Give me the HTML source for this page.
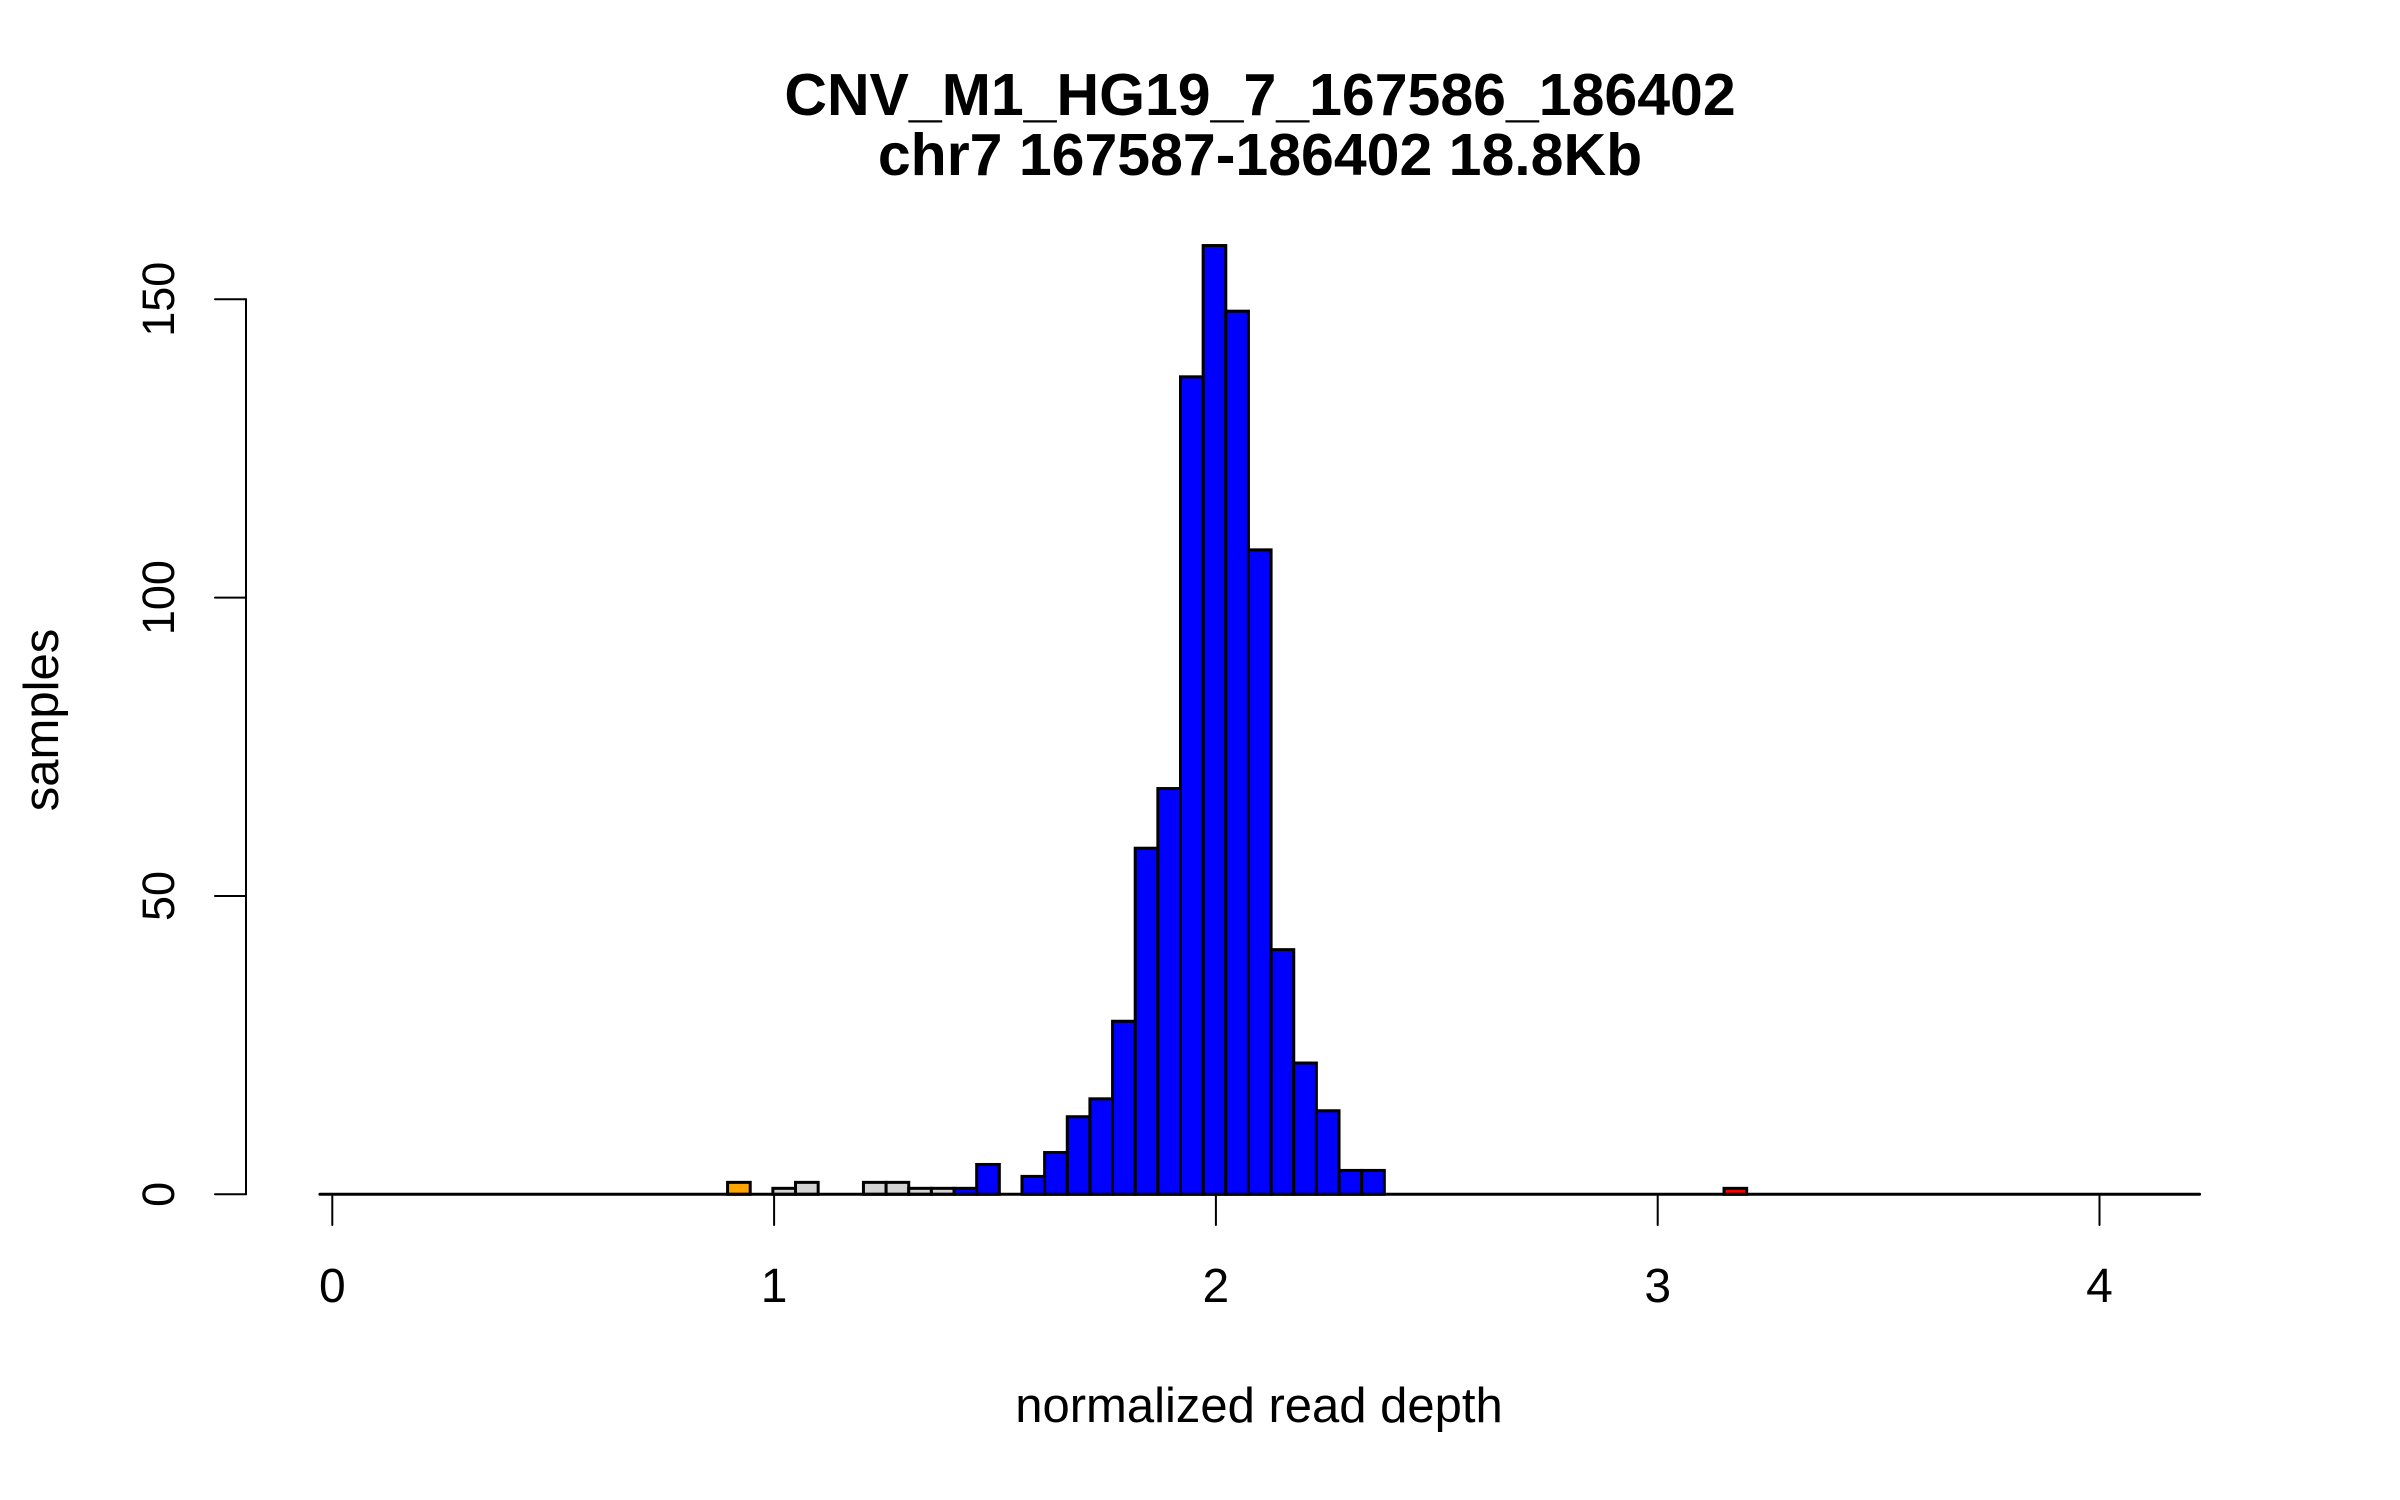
<!DOCTYPE html>
<html><head><meta charset="utf-8">
<style>
html,body{margin:0;padding:0;background:#fff;}
svg{display:block;}
text{font-family:"Liberation Sans",Arial,sans-serif;fill:#000;}
</style></head>
<body>
<svg id="chart" width="2400" height="1500" viewBox="0 0 2400 1500" xmlns="http://www.w3.org/2000/svg">
<rect x="0" y="0" width="2400" height="1500" fill="#fff"/>
<text x="1260" y="115" font-size="59" font-weight="bold" text-anchor="middle">CNV_M1_HG19_7_167586_186402</text>
<text x="1260" y="175" font-size="59" font-weight="bold" text-anchor="middle">chr7 167587-186402 18.8Kb</text>
<text x="1259" y="1422" font-size="49" text-anchor="middle">normalized read depth</text>
<text transform="translate(58,720) rotate(-90)" font-size="49" text-anchor="middle">samples</text>
<g id="bars"></g>
<g id="axes"></g>
</svg>
<script>
// Histogram data
const binStart = -0.028;
const binWidth = 0.05126;
const counts = [
 0,0,0,0,0,0,0,0,0,0, 0,0,0,0,0,0,0,0,
 2,0,1,2,0,0,2,2,1,1,1,5,0,3,7,13,16,29,58,68,137,159,148,108,41,22,14,4,4,
 0,0,0,0,0,0,0,0,0,0,0,0,0,0,0,
 1,
 0,0,0,0,0,0,0,0,0,0,0,0,0,0,0,0,0,0,0,0
];
const binColors = {18:"#FFA500",20:"#D3D3D3",21:"#D3D3D3",24:"#D3D3D3",25:"#D3D3D3",26:"#D3D3D3",27:"#D3D3D3",62:"#FF0000"};
const xTicks = [0,1,2,3,4];
const yTicks = [0,50,100,150];

const NS = "http://www.w3.org/2000/svg";
const X0 = 332.3, XU = 441.8, Y0 = 1194.3, YU = 5.967;
function xs(v){ return X0 + v*XU; }
function ys(v){ return Y0 - v*YU; }

const bars = document.getElementById('bars');
counts.forEach((c,i)=>{
  if (c <= 0) return;
  const l = xs(binStart + i*binWidth), r = xs(binStart + (i+1)*binWidth);
  const rect = document.createElementNS(NS,'rect');
  rect.setAttribute('x', l); rect.setAttribute('y', ys(c));
  rect.setAttribute('width', r-l); rect.setAttribute('height', ys(0)-ys(c));
  rect.setAttribute('fill', binColors[i] || "#0000FF");
  rect.setAttribute('stroke', '#000'); rect.setAttribute('stroke-width', '3');
  
  
  bars.appendChild(rect);
});

const axes = document.getElementById('axes');
function line(x1,y1,x2,y2,w,name){
  const l = document.createElementNS(NS,'line');
  l.setAttribute('x1',x1);l.setAttribute('y1',y1);l.setAttribute('x2',x2);l.setAttribute('y2',y2);
  l.setAttribute('stroke','#000');l.setAttribute('stroke-width',w);
  l.setAttribute('stroke-linecap','round');
  
  
  axes.appendChild(l);
}
// baseline of zero-height bins
line(xs(binStart), ys(0), xs(binStart + counts.length*binWidth), ys(0), 3, 'histogram-baseline');
// y axis
line(246, ys(yTicks[0]), 246, ys(yTicks[yTicks.length-1]), 2, 'y-axis-line');
yTicks.forEach(t=>{
  line(215, ys(t), 246, ys(t), 2, 'y-tick');
  const tx = document.createElementNS(NS,'text');
  tx.setAttribute('transform', 'translate(174,'+ys(t)+') rotate(-90)');
  tx.setAttribute('font-size','45'); tx.setAttribute('text-anchor','middle');
  tx.textContent = t;
  
  
  axes.appendChild(tx);
});
// x ticks
xTicks.forEach(t=>{
  line(xs(t), Y0+2, xs(t), 1225, 2, 'x-tick');
  const tx = document.createElementNS(NS,'text');
  tx.setAttribute('x', xs(t)); tx.setAttribute('y', 1302);
  tx.setAttribute('font-size','48'); tx.setAttribute('text-anchor','middle');
  tx.textContent = t;
  
  
  axes.appendChild(tx);
});
</script>
</body></html>
